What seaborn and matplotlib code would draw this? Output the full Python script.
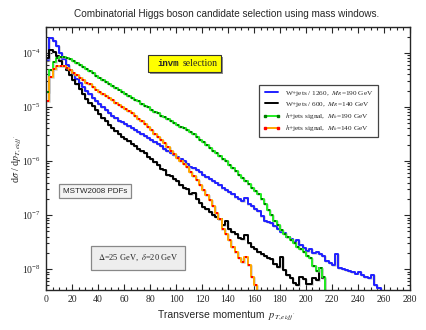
import numpy as np
import seaborn as sns
import matplotlib.pyplot as plt
import matplotlib.patheffects as pe
from matplotlib.lines import Line2D
from matplotlib.patches import Rectangle

# histogram values, 2.5 GeV bins starting at 0
bin_width = 2.5

wjets_190 = [7.4e-5, 1.9e-4, 1.66e-4, 1.32e-4, 1.0e-4, 7.6e-5, 6.0e-5, 4.8e-5, 4.0e-5, 3.3e-5,
             2.75e-5, 2.35e-5, 2.0e-5, 1.74e-5, 1.48e-5, 1.29e-5, 1.12e-5, 9.8e-6, 8.7e-6, 7.8e-6,
             6.9e-6, 6.3e-6, 5.6e-6, 5.2e-6, 4.8e-6, 4.4e-6, 4.1e-6, 3.8e-6, 3.5e-6, 3.2e-6,
             2.9e-6, 2.7e-6, 2.45e-6, 2.25e-6, 2.05e-6, 1.86e-6, 1.7e-6, 1.55e-6, 1.41e-6, 1.29e-6,
             1.17e-6, 1.07e-6, 9.8e-7, 8.9e-7, 7.9e-7, 7.4e-7, 6.8e-7, 6.2e-7, 5.5e-7, 5.0e-7,
             4.6e-7, 4.3e-7, 4.0e-7, 3.55e-7, 3.2e-7, 2.95e-7, 2.7e-7, 2.45e-7, 2.2e-7, 2.0e-7,
             1.82e-7, 2.1e-7, 1.58e-7, 1.45e-7, 1.32e-7, 1.2e-7, 9.5e-8, 7.9e-8, 7.4e-8, 7.2e-8,
             6.3e-8, 5.6e-8, 4.8e-8, 4.6e-8, 4.0e-8, 3.6e-8, 3.2e-8, 3.5e-8, 2.8e-8, 2.5e-8,
             2.2e-8, 2.4e-8, 2.0e-8, 2.1e-8, 1.9e-8, 1.78e-8, 1.41e-8, 1.32e-8, 1.2e-8, 1.9e-8,
             1.07e-8, 1.0e-8, 9.5e-9, 9.1e-9, 8.7e-9, 8.3e-9, 8.7e-9, 7.9e-9, 7.2e-9, 6.9e-9,
             7.9e-9, 5.0e-9, 4.5e-9, 0]

wjets_140 = [8.1e-5, 1.15e-4, 1.02e-4, 8.7e-5, 7.1e-5, 5.8e-5, 4.8e-5, 3.9e-5, 3.2e-5, 2.6e-5,
             2.15e-5, 1.74e-5, 1.41e-5, 1.2e-5, 1.02e-5, 8.7e-6, 7.4e-6, 6.3e-6, 5.4e-6, 4.6e-6,
             4.0e-6, 3.55e-6, 3.2e-6, 2.8e-6, 2.6e-6, 2.3e-6, 2.05e-6, 1.86e-6, 1.66e-6, 1.51e-6,
             1.38e-6, 1.2e-6, 1.07e-6, 9.5e-7, 8.3e-7, 7.2e-7, 6.8e-7, 5.6e-7, 5.2e-7, 4.6e-7,
             4.2e-7, 3.6e-7, 3.2e-7, 3.0e-7, 2.5e-7, 2.6e-7, 2.0e-7, 1.66e-7, 1.41e-7, 1.32e-7,
             1.12e-7, 1.0e-7, 9.1e-8, 8.3e-8, 6.6e-8, 7.9e-8, 5.6e-8, 4.8e-8, 4.4e-8, 3.8e-8,
             3.6e-8, 4.2e-8, 3.0e-8, 2.6e-8, 2.4e-8, 2.1e-8, 1.9e-8, 1.74e-8, 1.58e-8, 1.51e-8,
             1.26e-8, 1.1e-8, 1.66e-8, 9.5e-9, 7.9e-9, 6.9e-9, 5.6e-9, 5.0e-9, 7.1e-9, 6.6e-9,
             5.4e-9, 5.2e-9, 6.9e-9, 6.3e-9, 1.05e-8, 6.8e-9, 0]

higgs_190 = [1.9e-5, 4.9e-5, 6.8e-5, 7.9e-5, 8.3e-5, 8.3e-5, 8.1e-5, 7.8e-5, 7.2e-5, 6.6e-5,
             6.0e-5, 5.5e-5, 5.0e-5, 4.6e-5, 4.2e-5, 3.8e-5, 3.5e-5, 3.16e-5, 2.9e-5, 2.7e-5,
             2.45e-5, 2.24e-5, 2.1e-5, 1.9e-5, 1.74e-5, 1.62e-5, 1.48e-5, 1.35e-5, 1.26e-5, 1.15e-5,
             1.05e-5, 9.8e-6, 8.9e-6, 8.1e-6, 7.6e-6, 6.9e-6, 6.5e-6, 5.9e-6, 5.5e-6, 5.0e-6,
             4.7e-6, 4.3e-6, 4.0e-6, 3.7e-6, 3.4e-6, 3.1e-6, 2.75e-6, 2.45e-6, 2.2e-6, 1.95e-6,
             1.74e-6, 1.55e-6, 1.38e-6, 1.23e-6, 1.1e-6, 9.8e-7, 8.5e-7, 7.4e-7, 6.5e-7, 5.6e-7,
             4.9e-7, 4.3e-7, 3.7e-7, 3.2e-7, 2.8e-7, 2.45e-7, 2.0e-7, 1.58e-7, 1.26e-7, 1.0e-7,
             7.9e-8, 6.6e-8, 5.2e-8, 4.5e-8, 4.0e-8, 3.5e-8, 3.0e-8, 2.6e-8, 2.35e-8, 2.1e-8,
             1.74e-8, 1.58e-8, 1.12e-8, 9.1e-9, 1.05e-8, 7.1e-9, 0]

higgs_140 = [1.29e-5, 3.6e-5, 5.0e-5, 5.6e-5, 5.75e-5, 5.6e-5, 5.25e-5, 4.8e-5, 4.3e-5, 3.9e-5,
             3.5e-5, 3.16e-5, 2.8e-5, 2.6e-5, 2.35e-5, 2.1e-5, 1.9e-5, 1.74e-5, 1.58e-5, 1.45e-5,
             1.32e-5, 1.2e-5, 1.1e-5, 1.0e-5, 9.1e-6, 8.3e-6, 7.6e-6, 6.8e-6, 6.0e-6, 5.4e-6,
             4.8e-6, 4.3e-6, 3.7e-6, 3.2e-6, 2.8e-6, 2.45e-6, 2.15e-6, 1.82e-6, 1.55e-6, 1.32e-6,
             1.15e-6, 1.0e-6, 8.7e-7, 7.6e-7, 6.3e-7, 5.2e-7, 4.4e-7, 3.6e-7, 2.9e-7, 2.35e-7,
             1.9e-7, 1.45e-7, 1.1e-7, 8.3e-8, 5.6e-8, 4.4e-8, 3.5e-8, 2.6e-8, 2.1e-8, 1.58e-8,
             1.35e-8, 1.66e-8, 1.17e-8, 7.1e-9, 5.0e-9, 0]

labels = [r"W+jets / 1260,  $M_R$=190 GeV",
          r"W+jets / 600,  $M_R$=140 GeV",
          r"$h$+jets signal,  $M_h$=190 GeV",
          r"$h$+jets signal,  $M_h$=140 GeV"]

sns.set_style("ticks")
plt.rcParams['font.family'] = ['Liberation Serif', 'DejaVu Serif']
plt.rcParams['mathtext.fontset'] = 'stix'

fig = plt.figure(figsize=(4.27, 3.30), dpi=100)
ax = fig.add_axes([0.108, 0.121, 0.852, 0.797])

shadow = [pe.SimpleLineShadow(offset=(0.7, -0.7), shadow_color="0.7", alpha=0.5), pe.Normal()]


def draw_hist(vals, color, mcolor=None):
    vals = np.asarray(vals)
    edges = np.arange(len(vals) + 1) * bin_width
    sns.lineplot(x=edges, y=np.append(vals, vals[-1]), drawstyle="steps-post",
                 color=color, linewidth=1.4, estimator=None, ax=ax, path_effects=shadow)
    if mcolor is not None:
        centers = edges[:-1] + bin_width / 2
        keep = vals > 0
        sns.scatterplot(x=centers[keep], y=vals[keep], marker="s", s=3,
                        color=mcolor, linewidth=0, ax=ax, zorder=3)


draw_hist(wjets_190, "#1f1fff")
draw_hist(wjets_140, "black")
draw_hist(higgs_190, "#22ee22", "#007a00")
draw_hist(higgs_140, "#ffa500", "#ff0000")

ax.set_yscale("log")
ax.set_xlim(0, 280)
ax.set_ylim(4.1e-9, 3.0e-4)
ax.set_xticks(np.arange(0, 281, 20))
ax.set_xticks(np.arange(0, 281, 5), minor=True)
ax.tick_params(which="both", direction="in", top=True, right=True, labelsize=7, width=0.8)
ax.tick_params(which="major", length=4.5)
ax.tick_params(which="minor", length=2.2)
for s in ax.spines.values():
    s.set_linewidth(1.0)
ax.set_xlabel("")
ax.set_ylabel("")

# titles and axis labels
fig.text(0.53, 0.958, "Combinatorial Higgs boson candidate selection using mass windows.",
         ha="center", va="center", fontsize=7.2, family="Liberation Sans")
fig.text(0.495, 0.045, "Transverse momentum", ha="center", va="center",
         fontsize=7.5, family="Liberation Sans")
fig.text(0.66, 0.038, r"$p_{T,e\nu jj'}$", ha="center", va="center", fontsize=7.5)
fig.text(0.040, 0.52, r"d$\sigma$ / d$p_{T,e\nu jj'}$", rotation=90,
         ha="center", va="center", fontsize=7.2)

# yellow "invm selection" box
ax.add_patch(Rectangle((0.285, 0.821), 0.2005, 0.065, transform=ax.transAxes,
                       facecolor="0.55", edgecolor="none", zorder=4))
ax.add_patch(Rectangle((0.280, 0.829), 0.2005, 0.065, transform=ax.transAxes,
                       facecolor="#ffff00", edgecolor="#333333", linewidth=0.8, zorder=5))
ax.text(0.337, 0.862, "invm", transform=ax.transAxes, ha="center", va="center",
        fontsize=6.5, family="Liberation Mono", weight="bold", zorder=6)
ax.text(0.422, 0.862, "selection", transform=ax.transAxes, ha="center", va="center",
        fontsize=7, zorder=6)

# info boxes
ax.text(0.135, 0.376, "MSTW2008 PDFs", transform=ax.transAxes, ha="center", va="center",
        fontsize=5.8, family="Liberation Sans",
        bbox=dict(boxstyle="square,pad=0.45", facecolor="#f4f4f4", edgecolor="#888888", linewidth=0.9))
ax.text(0.253, 0.122, r"$\Delta$=25 GeV,  $\delta$=20 GeV", transform=ax.transAxes,
        ha="center", va="center", fontsize=6,
        bbox=dict(boxstyle="square,pad=0.8", facecolor="#eeeeee", edgecolor="#888888", linewidth=0.9))

# legend
handles = [Line2D([], [], color="#1f1fff", lw=1.4),
           Line2D([], [], color="black", lw=1.4),
           Line2D([], [], color="#22ee22", lw=1.4, marker="s", markersize=1.8,
                  markerfacecolor="#007a00", markeredgecolor="#007a00"),
           Line2D([], [], color="#ffa500", lw=1.4, marker="s", markersize=1.8,
                  markerfacecolor="#ff0000", markeredgecolor="#ff0000")]
leg = ax.legend(handles, labels, loc="upper left", bbox_to_anchor=(0.575, 0.795),
                fontsize=5.2, numpoints=2, handlelength=2.4, handletextpad=0.7,
                frameon=True, fancybox=False, framealpha=1, borderpad=0.55, labelspacing=0.32)
leg.get_frame().set_edgecolor("#444444")
leg.get_frame().set_linewidth(0.9)

fig.savefig("out.png", dpi=100)
